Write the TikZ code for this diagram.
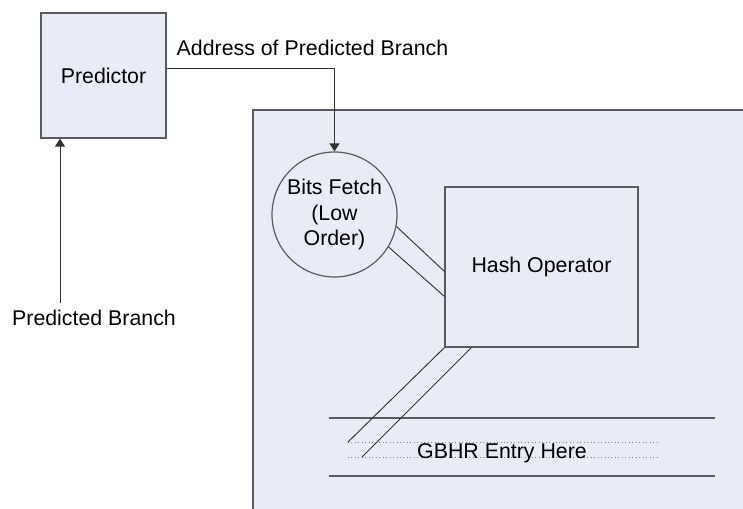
\documentclass[tikz,border=0pt]{standalone}
\usepackage{fontspec}
\setmainfont{Liberation Sans}
\usetikzlibrary{arrows.meta,calc}
\definecolor{panelfill}{RGB}{231,236,247}
\definecolor{edge}{RGB}{90,90,95}
\definecolor{wire}{RGB}{50,50,50}
\tikzset{
  px/.style={x=0.75pt,y=-0.75pt},
  lbl/.style={font=\fontsize{16}{18.8}\selectfont, text=black, inner sep=0pt},
  block/.style={draw=edge, line width=0.9pt, fill=panelfill, inner sep=0pt},
  wireline/.style={draw=wire, line width=0.7pt},
  tip/.style={-{Triangle[width=7.5pt,length=6pt]}},
  slot/.style={draw=edge, line width=0.8pt},
  dotline/.style={draw=gray, line width=0.6pt, dotted}
}
\begin{document}
\begin{tikzpicture}[px]
\useasboundingbox (0,0) rectangle (743,509);
% background panel holding the hashing logic
\fill[panelfill] (253,110) rectangle (743,509);
\draw[edge, line width=1.2pt] (253,509) -- (253,110) -- (743,110);

% main blocks
\node[block, lbl, minimum width=93.75pt, minimum height=93.75pt] (pred) at (103.5,75.5) {Predictor};
\node[block, lbl, circle, minimum size=93.75pt, align=center] (bits) at (334.5,214.5) {Bits Fetch\\(Low\\Order)};
\node[block, lbl, minimum width=144.75pt, minimum height=120pt] (hash) at (541.5,267) {Hash Operator};

% labels
\node[lbl] (addr) at (312.5,48) {Address of Predicted Branch};
\node[lbl] (pbr) at (94,318) {Predicted Branch};
\coordinate (pbtop) at (60,303);

% arrows
\draw[wireline, tip] ($(pred.east)+(0,-7.5)$) -| (bits.north);
\draw[wireline, tip] (pbtop) -- (pbtop |- pred.south);

% bits fetch to hash operator
\draw[wireline] (bits.-11) -- ($(hash.north west)+(0,85)$);
\draw[wireline] (bits.-31) -- ($(hash.north west)+(0,110)$);

% GBHR entry slot
\coordinate (sl) at (329,418);
\coordinate (sr) at (715,418);
\coordinate (bl) at (329,476);
\coordinate (br) at (715,476);
\draw[slot] (sl) -- (sr);
\draw[slot] (bl) -- (br);
\coordinate (d1) at (348,442);
\coordinate (d1e) at (657,442);
\coordinate (d2) at (362,457);
\coordinate (d2s) at (348,457);
\coordinate (d2e) at (657,457);
\draw[dotline] (d1) -- (d1e);
\draw[dotline] (d2s) -- (d2e);
\node[lbl] (gbhr) at (502,453) {GBHR Entry Here};

% hash operator to GBHR entry
\draw[wireline] (hash.south west) -- (d1);
\draw[wireline] ($(hash.south west)+(27,0)$) -- (d2);
\end{tikzpicture}
\end{document}
